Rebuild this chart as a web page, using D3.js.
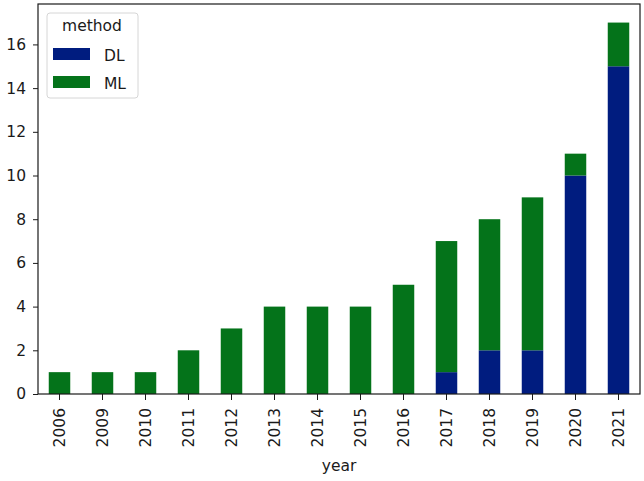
<!DOCTYPE html>
<html>
<head>
<meta charset="utf-8">
<script src="https://cdn.jsdelivr.net/npm/d3@7"></script>
<style>
  body { margin: 0; background: #fff; }
  text { font-family: "DejaVu Sans", sans-serif; fill: #1a1a1a; }
</style>
</head>
<body>
<svg id="chart" width="644" height="481"></svg>
<script>
const years = ["2006","2009","2010","2011","2012","2013","2014","2015","2016","2017","2018","2019","2020","2021"]
const dl = [0,0,0,0,0,0,0,0,0,1,2,2,10,15]
const ml = [1,1,1,2,3,4,4,4,5,6,6,7,1,2]
const methods = ["DL", "ML"]
const yTicks = [0,2,4,6,8,10,12,14,16]

const colors = { DL: "#001c7f", ML: "#04731a" }

const plotLeft = 38, plotRight = 640, plotTop = 4, plotBottom = 394
const fontSize = '15.5px'

const rows = years.map((y, i) => ({ year: y, DL: dl[i], ML: ml[i] }))
const stacked = d3.stack().keys(methods)(rows)

const svg = d3.select('#chart')

const x = d3.scaleBand()
	.domain(years)
	.range([plotLeft, plotRight])
	.paddingInner(0.5)
	.paddingOuter(0.25)

const yMax = d3.max(rows, d => d.DL + d.ML) * 1.05
const y = d3.scaleLinear()
	.domain([0, yMax])
	.range([plotBottom, plotTop])

// bars
svg.append('g')
	.selectAll('g')
	.data(stacked)
	.join('g')
	.attr('fill', d => colors[d.key])
	.selectAll('rect')
	.data(d => d)
	.join('rect')
	.attr('x', d => x(d.data.year))
	.attr('width', x.bandwidth())
	.attr('y', d => y(d[1]))
	.attr('height', d => y(d[0]) - y(d[1]))

// axes
const yAxis = svg.append('g')
	.attr('transform', `translate(${plotLeft},0)`)
	.call(d3.axisLeft(y).tickValues(yTicks).tickSize(5).tickPadding(7))
yAxis.select('.domain').remove()
yAxis.selectAll('text').style('font-size', fontSize)

const xAxis = svg.append('g')
	.attr('transform', `translate(0,${plotBottom})`)
	.call(d3.axisBottom(x).tickSize(6))
xAxis.select('.domain').remove()
xAxis.selectAll('text')
	.style('font-size', fontSize)
	.attr('transform', 'rotate(-90)')
	.attr('text-anchor', 'end')
	.attr('y', 0)
	.attr('dy', '0.35em')
	.attr('x', -14)

svg.selectAll('.tick line').attr('stroke', '#1a1a1a')

// frame
svg.append('rect')
	.attr('x', plotLeft).attr('y', plotTop)
	.attr('width', plotRight - plotLeft).attr('height', plotBottom - plotTop)
	.attr('fill', 'none')
	.attr('stroke', '#1a1a1a')
	.attr('stroke-width', 1.2)

svg.append('text')
	.attr('x', (plotLeft + plotRight) / 2)
	.attr('y', 471)
	.attr('text-anchor', 'middle')
	.style('font-size', fontSize)
	.text('year')

// legend
const legend = svg.append('g').attr('transform', 'translate(47,13)')
legend.append('rect')
	.attr('width', 91).attr('height', 85)
	.attr('rx', 3)
	.attr('fill', '#fff').attr('fill-opacity', 0.8)
	.attr('stroke', '#d6d6d6')
legend.append('text')
	.attr('x', 45).attr('y', 18)
	.attr('text-anchor', 'middle')
	.style('font-size', fontSize)
	.text('method')
const items = legend.selectAll('.item')
	.data(methods)
	.join('g')
	.attr('class', 'item')
	.attr('transform', (d, i) => `translate(6,${35 + i * 28})`)
items.append('rect')
	.attr('width', 37).attr('height', 12)
	.attr('fill', d => colors[d])
items.append('text')
	.attr('x', 51).attr('y', 13)
	.style('font-size', fontSize)
	.text(d => d)
</script>
</body>
</html>
